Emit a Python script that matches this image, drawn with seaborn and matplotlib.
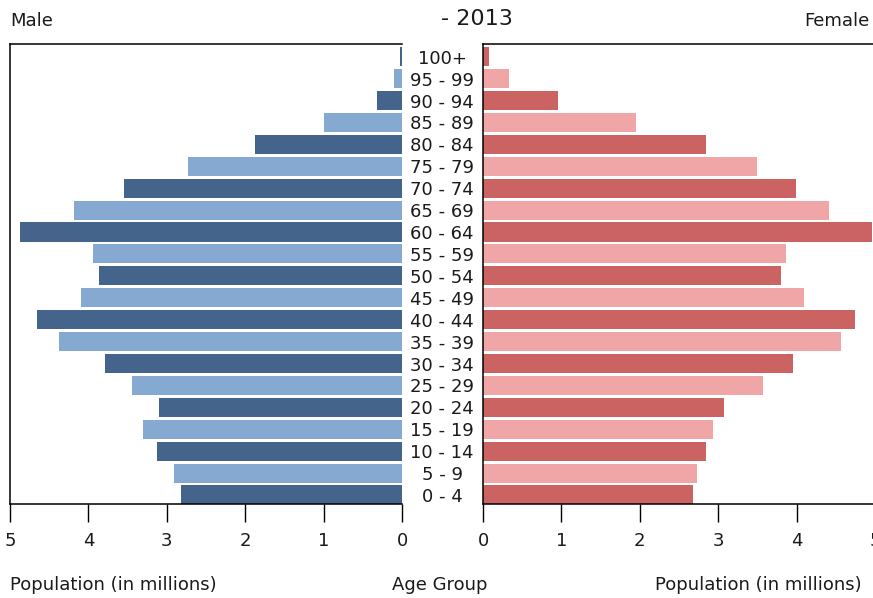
import pandas as pd
import matplotlib.pyplot as plt
import seaborn as sns

# age groups, top to bottom
age_groups = ['100+', '95 - 99', '90 - 94', '85 - 89', '80 - 84', '75 - 79',
              '70 - 74', '65 - 69', '60 - 64', '55 - 59', '50 - 54', '45 - 49',
              '40 - 44', '35 - 39', '30 - 34', '25 - 29', '20 - 24', '15 - 19',
              '10 - 14', '5 - 9', '0 - 4']

# population in millions
male = [0.03, 0.10, 0.32, 0.99, 1.87, 2.73, 3.55, 4.18, 4.87, 3.94, 3.86,
        4.09, 4.65, 4.37, 3.79, 3.45, 3.10, 3.30, 3.12, 2.91, 2.82]
female = [0.08, 0.33, 0.96, 1.95, 2.84, 3.50, 3.99, 4.41, 4.96, 3.87, 3.80,
          4.10, 4.74, 4.57, 3.95, 3.57, 3.07, 2.94, 2.84, 2.73, 2.68]

male_colors = ['#44648b', '#86a9d2']
female_colors = ['#cc6363', '#f0a6a6']

df = pd.DataFrame({'Age': age_groups, 'Male': male, 'Female': female})

sns.set_theme(style='white')
plt.rcParams['font.family'] = ['DejaVu Sans']
plt.rcParams['text.color'] = '#1a1a1a'
plt.rcParams['xtick.color'] = '#1a1a1a'
plt.rcParams['ytick.color'] = '#1a1a1a'

fig = plt.figure(figsize=(8.73, 5.98), dpi=100)
ax_m = fig.add_axes([10 / 873, 94 / 598, 392 / 873, 460 / 598])
ax_f = fig.add_axes([483 / 873, 94 / 598, 392 / 873, 460 / 598])

n = len(age_groups)
pal_m = {a: male_colors[(n - 1 - i) % 2] for i, a in enumerate(age_groups)}
pal_f = {a: female_colors[(n - 1 - i) % 2] for i, a in enumerate(age_groups)}

sns.barplot(data=df, x='Male', y='Age', hue='Age', palette=pal_m, order=age_groups,
            orient='h', width=0.87, linewidth=0, saturation=1, legend=False, ax=ax_m)
sns.barplot(data=df, x='Female', y='Age', hue='Age', palette=pal_f, order=age_groups,
            orient='h', width=0.87, linewidth=0, saturation=1, legend=False, ax=ax_f)

ax_m.set_xlim(5, 0)
ax_f.set_xlim(0, 5)
for ax in (ax_m, ax_f):
    ax.set_ylim(20.41, -0.58)
    ax.set_xlabel('')
    ax.set_ylabel('')
    ax.set_xticks([0, 1, 2, 3, 4, 5])
    ax.set_xticklabels(['0', '1', '2', '3', '4', '5'])
    ax.tick_params(axis='x', direction='out', length=13, width=1, color='black',
                   labelsize=13, pad=7, bottom=True)
    for s in ax.spines.values():
        s.set_color('black')
        s.set_linewidth(1.1)

ax_m.set_yticks([])
ax_m.spines['right'].set_visible(False)

ax_f.set_yticks(range(n))
ax_f.set_yticklabels(age_groups, ha='center')
ax_f.tick_params(axis='y', length=0, labelsize=13, pad=29.5)

fig.text(477 / 873, 1 - 19 / 598, '- 2013', ha='center', va='center', fontsize=16)
fig.text(10 / 873, 1 - 21 / 598, 'Male', ha='left', va='center', fontsize=13)
fig.text(870 / 873, 1 - 21 / 598, 'Female', ha='right', va='center', fontsize=13)
fig.text(10 / 873, 1 - 585 / 598, 'Population (in millions)', ha='left', va='center', fontsize=13)
fig.text(440 / 873, 1 - 585 / 598, 'Age Group', ha='center', va='center', fontsize=13)
fig.text(862 / 873, 1 - 585 / 598, 'Population (in millions)', ha='right', va='center', fontsize=13)

fig.savefig('out.png', dpi=100)
